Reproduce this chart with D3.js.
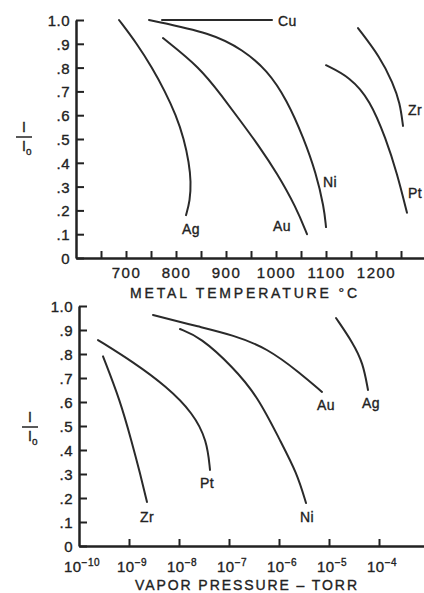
<!DOCTYPE html>
<html><head><meta charset="utf-8">
<script src="https://cdn.jsdelivr.net/npm/d3@7"></script>
<style>
body{margin:0;background:#fff}
text{font-family:"Liberation Sans",Arial,Helvetica,sans-serif;fill:#222;stroke:#222;stroke-width:0.35px}
</style>
</head><body>
<svg id="c" width="424" height="593"></svg>
<script>
// ---------- data ----------
const ratioTicks = [0, 0.1, 0.2, 0.3, 0.4, 0.5, 0.6, 0.7, 0.8, 0.9, 1.0];
const ratioTickLabels = ["0", ".1", ".2", ".3", ".4", ".5", ".6", ".7", ".8", ".9", "1.0"];
const tempTicks = [650, 700, 750, 800, 850, 900, 950, 1000, 1050, 1100, 1150, 1200, 1250];
const tempTickLabels = [700, 800, 900, 1000, 1100, 1200];
const pressureExponents = [-10, -9, -8, -7, -6, -5, -4];

// Top panel: [metal temperature °C, I/Io]
const cuTemp = [[772, 1.0], [992, 1.0]];
const agTemp = [[686, 1.0], [722, 0.9], [752, 0.8], [778, 0.7], [800, 0.6], [816, 0.5], [826, 0.4], [830, 0.32], [828, 0.24], [820, 0.18]];
const niTemp = [[746, 1.0], [872, 0.945], [934, 0.874], [982, 0.79], [1022, 0.664], [1056, 0.5], [1080, 0.357], [1096, 0.214], [1100, 0.13]];
const auTemp = [[774, 0.924], [848, 0.8], [892, 0.68], [930, 0.573], [964, 0.476], [1002, 0.357], [1040, 0.214], [1062, 0.1]];
const ptTemp = [[1100, 0.81], [1148, 0.76], [1188, 0.664], [1220, 0.5], [1242, 0.357], [1262, 0.19]];
const zrTemp = [[1164, 0.966], [1208, 0.845], [1234, 0.735], [1248, 0.651], [1254, 0.555]];

// Bottom panel: [log10 vapor pressure (torr), I/Io]
const zrPress = [[-9.52, 0.79], [-9.18, 0.608], [-8.94, 0.43], [-8.78, 0.304], [-8.64, 0.183]];
const ptPress = [[-9.62, 0.858], [-8.92, 0.767], [-8.24, 0.663], [-7.72, 0.554], [-7.44, 0.44], [-7.38, 0.317]];
const niPress = [[-7.98, 0.904], [-7.58, 0.871], [-6.92, 0.746], [-6.42, 0.621], [-5.98, 0.44], [-5.64, 0.304], [-5.46, 0.179]];
const auPress = [[-8.52, 0.9625], [-7.58, 0.9125], [-6.92, 0.879], [-6.24, 0.825], [-5.58, 0.721], [-5.14, 0.642]];
const agPress = [[-4.86, 0.95], [-4.52, 0.846], [-4.32, 0.7625], [-4.22, 0.65]];

// ---------- drawing ----------
const svg = d3.select("#c");
const INK = "#222";

const xT = d3.scaleLinear().domain([600, 1300]).range([76, 426]);
const yT = d3.scaleLinear().domain([0, 1]).range([258, 20]);
const xP = d3.scaleLog().domain([1e-10, 1e-3]).range([79, 429]);
const yP = d3.scaleLinear().domain([0, 1]).range([546, 306]);

function styleAxis(g) {
  g.select(".domain").attr("stroke", INK).attr("stroke-width", 2.5);
  g.selectAll(".tick line").attr("stroke", INK).attr("stroke-width", 2);
  g.selectAll(".tick text").attr("fill", INK).style("font-size", "15px").style("letter-spacing", "0.5px");
}

function yAxis(scale, x) {
  const g = svg.append("g").attr("transform", `translate(${x},0)`)
    .call(d3.axisLeft(scale).tickValues(ratioTicks).tickSize(-8).tickSizeOuter(0).tickPadding(6)
      .tickFormat((d, i) => ratioTickLabels[i]));
  styleAxis(g);
  g.selectAll(".tick text").attr("dy", "0.36em");
}

// top panel axes
yAxis(yT, 76);
const gxT = svg.append("g").attr("transform", "translate(0,258)")
  .call(d3.axisBottom(xT).tickValues(tempTicks).tickSize(-7).tickSizeOuter(0).tickPadding(9)
    .tickFormat(d => tempTickLabels.includes(d) ? d : ""));
styleAxis(gxT);
gxT.selectAll(".tick text").style("letter-spacing", "1.5px");

// bottom panel axes
yAxis(yP, 79);
const gxP = svg.append("g").attr("transform", "translate(0,546)")
  .call(d3.axisBottom(xP).tickValues(pressureExponents.map(e => Math.pow(10, e))).tickSize(-7).tickSizeOuter(0)
    .tickFormat(""));
styleAxis(gxP);
gxP.selectAll(".tick line").filter(d => d <= 1e-10).remove();
const pl = svg.append("g");
pressureExponents.forEach(e => {
  const t = pl.append("text").attr("x", xP(Math.pow(10, e)) + 3).attr("y", 572)
    .attr("text-anchor", "middle").style("font-size", "15px").style("letter-spacing", "0.5px");
  t.append("tspan").text("10");
  t.append("tspan").attr("dy", -6).style("font-size", "10px").text("\u2212" + Math.abs(e));
});

// axis titles
svg.append("text").attr("x", 130).attr("y", 298).attr("textLength", 227).attr("lengthAdjust", "spacing")
  .style("font-size", "14px").text("METAL TEMPERATURE \u00B0C");
svg.append("text").attr("x", 135).attr("y", 590).attr("textLength", 222).attr("lengthAdjust", "spacing")
  .style("font-size", "14px").text("VAPOR PRESSURE \u2013 TORR");

// I / Io labels
function ratioLabel(cx, lineY) {
  const g = svg.append("g");
  g.append("text").attr("x", cx).attr("y", lineY - 5).attr("text-anchor", "middle").style("font-size", "14px").text("I");
  g.append("line").attr("x1", cx - 8).attr("x2", cx + 8).attr("y1", lineY).attr("y2", lineY)
    .attr("stroke", INK).attr("stroke-width", 1.5);
  const t = g.append("text").attr("x", cx - 2).attr("y", lineY + 14).style("font-size", "14px");
  t.append("tspan").text("I");
  t.append("tspan").attr("dy", 4).style("font-size", "10px").text("o");
}
ratioLabel(24, 137);
ratioLabel(30, 427);

// curves
const lineGen = (xs, ys, conv) => d3.line()
  .x(d => xs(conv(d[0]))).y(d => ys(d[1]))
  .curve(d3.curveBasis);
const idT = v => v;
const pw = e => Math.pow(10, e);

const topSeries = [
  {name: "Cu", pts: cuTemp, li: 1, dx: 6, dy: 6},
  {name: "Ag", pts: agTemp, li: 9, dx: -4, dy: 19},
  {name: "Ni", pts: niTemp, li: 6, dx: 7, dy: 14},
  {name: "Au", pts: auTemp, li: 7, dx: -34, dy: -3},
  {name: "Pt", pts: ptTemp, li: 5, dx: 1, dy: -15},
  {name: "Zr", pts: zrTemp, li: 4, dx: 5, dy: -11}
];
const botSeries = [
  {name: "Zr", pts: zrPress, li: 4, dx: -7, dy: 20},
  {name: "Pt", pts: ptPress, li: 5, dx: -10, dy: 18},
  {name: "Ni", pts: niPress, li: 6, dx: -6, dy: 19},
  {name: "Au", pts: auPress, li: 5, dx: -5, dy: 18},
  {name: "Ag", pts: agPress, li: 3, dx: -6, dy: 18}
];

function drawSeries(list, xs, ys, conv) {
  const g = svg.append("g");
  list.forEach(s => {
    const gen = lineGen(xs, ys, conv);
    g.append("path").attr("d", gen(s.pts)).attr("fill", "none")
      .attr("stroke", "#2a2a2a").attr("stroke-width", 2).attr("stroke-linecap", "round");
    const p = s.pts[s.li];
    g.append("text").attr("x", xs(conv(p[0])) + s.dx).attr("y", ys(p[1]) + s.dy)
      .style("font-size", "14px").style("letter-spacing", "0.5px").text(s.name);
  });
}
drawSeries(topSeries, xT, yT, idT);
drawSeries(botSeries, xP, yP, pw);
</script>
</body></html>
